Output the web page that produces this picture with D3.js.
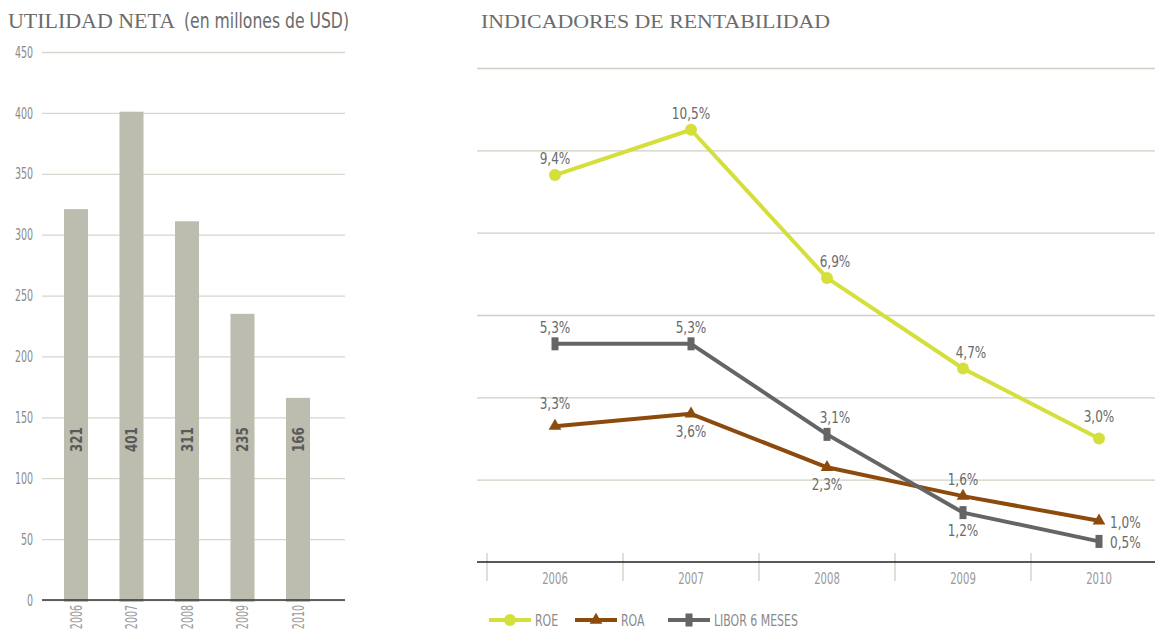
<!DOCTYPE html>
<html>
<head>
<meta charset="utf-8">
<script src="https://cdn.jsdelivr.net/npm/d3@7/dist/d3.min.js"></script>
<style>
  html, body { margin: 0; padding: 0; background: #fff; }
  svg { display: block; }
  .serif { font-family: "Liberation Serif", "DejaVu Serif", serif; }
  .narrow { font-family: "DejaVu Sans Condensed", "Liberation Sans Narrow", "Liberation Sans", sans-serif; }
</style>
</head>
<body>
<svg id="chart" width="1155" height="629"></svg>
<script>
// Net income (millions of USD)
const years = ["2006", "2007", "2008", "2009", "2010"];
const netIncome = [321, 401, 311, 235, 166];
const incomeTicks = [0, 50, 100, 150, 200, 250, 300, 350, 400, 450];

// Profitability indicators (%)
const roe = [9.4, 10.5, 6.9, 4.7, 3.0];
const roa = [3.3, 3.6, 2.3, 1.6, 1.0];
const libor = [5.3, 5.3, 3.1, 1.2, 0.5];
const rateTicks = [2, 4, 6, 8, 10, 12];
const seriesNames = ["ROE", "ROA", "LIBOR 6 MESES"];

const svg = d3.select("#chart");
const fmt = v => d3.format(".1f")(v).replace(".", ",") + "%";

// horizontally condense a text in its own coordinate frame
function squeeze(sel, k) {
  sel.each(function () {
    const t = d3.select(this);
    const x = +t.attr("x") || 0;
    t.attr("x", x / k).attr("transform", `scale(${k},1)`);
  });
}

/* ---------- Left panel: bar chart ---------- */
svg.append("text").attr("class", "serif")
  .attr("x", 8).attr("y", 28)
  .attr("font-size", 21.5).attr("fill", "#6b6b6b")
  .attr("textLength", 167).attr("lengthAdjust", "spacingAndGlyphs")
  .text("UTILIDAD NETA");
svg.append("text").attr("class", "narrow")
  .attr("x", 184).attr("y", 28)
  .attr("font-size", 21).attr("fill", "#6b6b6b")
  .attr("textLength", 165).attr("lengthAdjust", "spacingAndGlyphs")
  .text("(en millones de USD)");

const yBar = d3.scaleLinear().domain([0, 450]).range([600, 52]);
const xBar = d3.scaleBand().domain(years).range([48.25, 325.75])
  .paddingInner(0.567).paddingOuter(0.2835);
const bx = d => xBar(d) + xBar.bandwidth() / 2;

const gBar = svg.append("g");

gBar.append("g")
  .attr("transform", "translate(42,0)")
  .call(d3.axisLeft(yBar).tickValues(incomeTicks).tickSize(-303).tickPadding(9))
  .call(g => g.select(".domain").remove())
  .call(g => g.selectAll(".tick line").attr("stroke", "#d6d6cc").attr("stroke-width", 1.3))
  .call(g => g.selectAll(".tick text")
    .attr("class", "narrow").attr("font-size", 16).attr("fill", "#8a8a8a")
    .call(squeeze, 0.66));

gBar.selectAll("rect.bar")
  .data(netIncome)
  .join("rect")
  .attr("class", "bar")
  .attr("x", (d, i) => xBar(years[i]))
  .attr("width", xBar.bandwidth())
  .attr("y", d => yBar(d))
  .attr("height", d => yBar(0) - yBar(d) + 2)
  .attr("fill", "#bdbdaf");

// baseline
gBar.append("line")
  .attr("x1", 42).attr("x2", 345)
  .attr("y1", yBar(0)).attr("y2", yBar(0))
  .attr("stroke", "#333").attr("stroke-width", 1.5);

// value labels inside bars
gBar.selectAll("text.val")
  .data(netIncome)
  .join("text")
  .attr("class", "val narrow")
  .attr("transform", (d, i) => `translate(${bx(years[i])},452) rotate(-90) scale(0.8,1)`)
  .attr("dy", "0.36em")
  .attr("font-size", 16.5).attr("font-weight", "bold").attr("fill", "#5a5a5a")
  .text(d => d);

// rotated year labels
gBar.selectAll("text.yr")
  .data(years)
  .join("text")
  .attr("class", "yr narrow")
  .attr("transform", d => `translate(${bx(d)},605) rotate(-90) scale(0.68,1)`)
  .attr("text-anchor", "end")
  .attr("dy", "0.36em")
  .attr("font-size", 15.5).attr("fill", "#9a9a9a")
  .text(d => d);

/* ---------- Right panel: line chart ---------- */
svg.append("text").attr("class", "serif")
  .attr("x", 481).attr("y", 28)
  .attr("font-size", 19.5).attr("fill", "#6b6b6b")
  .attr("textLength", 349).attr("lengthAdjust", "spacingAndGlyphs")
  .text("INDICADORES DE RENTABILIDAD");

const yLine = d3.scaleLinear().domain([0, 12]).range([562, 68]);
const xLine = d3.scaleBand().domain(years).range([487, 1167]);
const cx = y => xLine(y) + xLine.bandwidth() / 2;

const gLine = svg.append("g");

// gridlines
gLine.append("g")
  .attr("transform", "translate(477,0)")
  .call(d3.axisLeft(yLine).tickValues(rateTicks).tickSize(-678).tickFormat(""))
  .call(g => g.select(".domain").remove())
  .call(g => g.selectAll(".tick line").attr("stroke", "#cfcfc3").attr("stroke-width", 1.3));

// category axis
gLine.append("g")
  .attr("transform", `translate(0,${yLine(0)})`)
  .call(d3.axisBottom(xLine).tickSize(0).tickPadding(11))
  .call(g => g.select(".domain").remove())
  .call(g => g.selectAll(".tick text")
    .attr("class", "narrow").attr("font-size", 16).attr("fill", "#9a9a9a")
    .call(squeeze, 0.7));

gLine.selectAll("line.sep")
  .data(years)
  .join("line")
  .attr("class", "sep")
  .attr("x1", d => xLine(d)).attr("x2", d => xLine(d))
  .attr("y1", yLine(0) - 9).attr("y2", yLine(0) + 19)
  .attr("stroke", "#cfcfc3").attr("stroke-width", 1.3);

gLine.append("line")
  .attr("x1", 477).attr("x2", 1155)
  .attr("y1", yLine(0)).attr("y2", yLine(0))
  .attr("stroke", "#222").attr("stroke-width", 1.5);

const series = [
  { name: seriesNames[0], values: roe,   color: "#d5df3c", marker: "circle",
    place: ["above", "above", "aboveRight", "aboveRight", "aboveHigh"] },
  { name: seriesNames[1], values: roa,   color: "#8c4b0c", marker: "triangle",
    place: ["aboveHigh", "below", "below", "above", "right"] },
  { name: seriesNames[2], values: libor, color: "#656565", marker: "rect",
    place: ["above", "above", "aboveRight", "below", "right"] }
];

const line = d3.line().x((d, i) => cx(years[i])).y(d => yLine(d));

function drawMarker(sel, type, color) {
  if (type === "circle") {
    sel.append("circle").attr("r", 6).attr("fill", color);
  } else if (type === "triangle") {
    sel.append("path")
      .attr("d", d3.symbol().type(d3.symbolTriangle).size(70)())
      .attr("fill", color);
  } else {
    sel.append("rect").attr("x", -3.5).attr("y", -6.5)
      .attr("width", 7).attr("height", 13).attr("fill", color);
  }
}

// draw order: ROA, LIBOR, ROE on top
[series[1], series[2], series[0]].forEach(s => {
  const g = gLine.append("g");
  g.append("path")
    .datum(s.values)
    .attr("d", line)
    .attr("fill", "none")
    .attr("stroke", s.color)
    .attr("stroke-width", 4)
    .attr("stroke-linejoin", "round");
  g.selectAll("g.pt")
    .data(s.values)
    .join("g")
    .attr("class", "pt")
    .attr("transform", (d, i) => `translate(${cx(years[i])},${yLine(d)})`)
    .each(function () { drawMarker(d3.select(this), s.marker, s.color); });
});

// data labels
function labelPos(place, x, y) {
  switch (place) {
    case "below":      return [x, y + 23, "middle"];
    case "right":      return [x + 11, y + 7, "start"];
    case "aboveRight": return [x + 8, y - 11, "middle"];
    case "aboveHigh":  return [x, y - 17, "middle"];
    default:           return [x, y - 11, "middle"];
  }
}
series.forEach(s => {
  gLine.selectAll(null)
    .data(s.values)
    .join("text")
    .attr("class", "narrow")
    .attr("font-size", 16)
    .attr("fill", "#6a6a6a")
    .each(function (d, i) {
      const [x, y, anchor] = labelPos(s.place[i], cx(years[i]), yLine(d));
      d3.select(this)
        .attr("text-anchor", anchor)
        .attr("transform", `translate(${x},${y}) scale(0.84,1)`);
    })
    .text(d => fmt(d));
});

// legend
const legend = svg.append("g").attr("transform", "translate(489,620)");
const legendX = [0, 86, 179];
series.forEach((s, i) => {
  const g = legend.append("g").attr("transform", `translate(${legendX[i]},0)`);
  g.append("line").attr("x1", 0).attr("x2", 42).attr("y1", 0).attr("y2", 0)
    .attr("stroke", s.color).attr("stroke-width", 4);
  const m = g.append("g").attr("transform", "translate(21,0)");
  drawMarker(m, s.marker, s.color);
  g.append("text").attr("class", "narrow")
    .attr("x", 46).attr("y", 0).attr("dy", "0.36em")
    .attr("font-size", 16).attr("fill", "#8a8a8a")
    .call(squeeze, 0.76)
    .text(s.name);
});
</script>
</body>
</html>
